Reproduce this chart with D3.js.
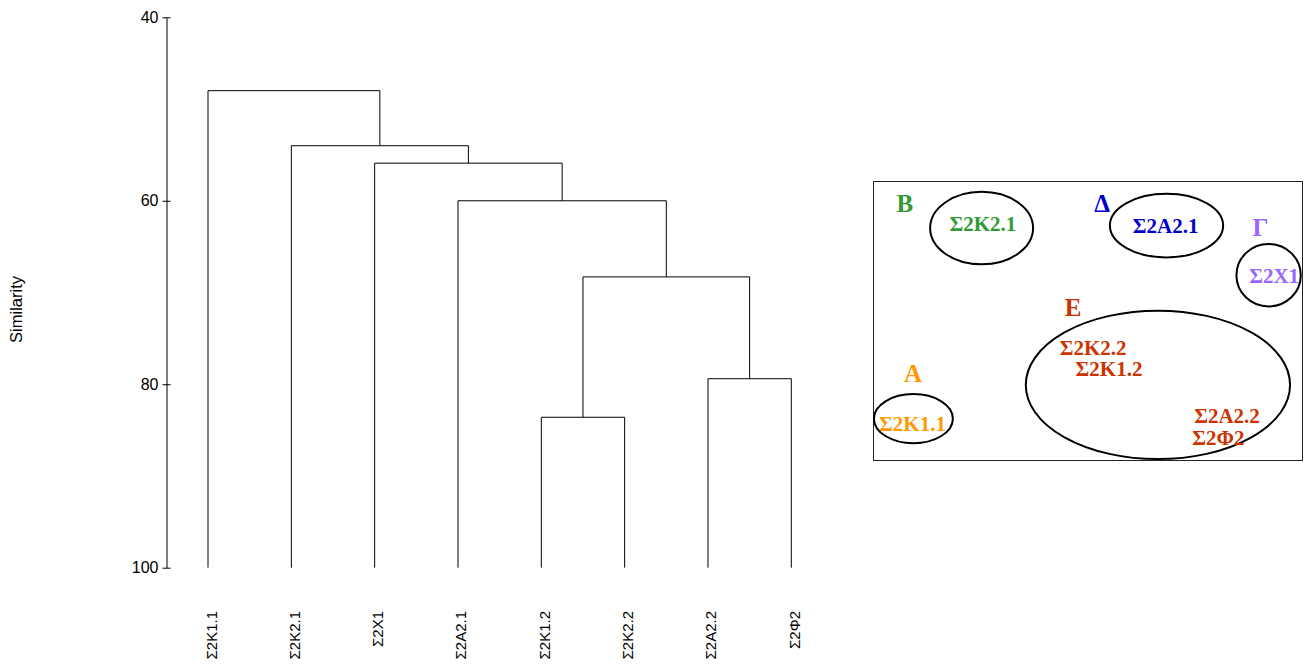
<!DOCTYPE html>
<html>
<head>
<meta charset="utf-8">
<script src="https://cdn.jsdelivr.net/npm/d3@7"></script>
<style>
  html, body { margin: 0; padding: 0; background: #fff; }
  svg { display: block; }
</style>
</head>
<body>
<svg id="chart" width="1305" height="664"></svg>
<script>
// Observations (dendrogram leaves, left to right)
const leaves = ["Σ2Κ1.1", "Σ2Κ2.1", "Σ2Χ1", "Σ2Α2.1", "Σ2Κ1.2", "Σ2Κ2.2", "Σ2Α2.2", "Σ2Φ2"];

// Linkage steps: cluster ids 0..7 are leaves, each step creates id 8, 9, ...
const mergeA   = [4, 6, 8, 3, 2, 1, 0];
const mergeB   = [5, 7, 9, 10, 11, 12, 13];
const mergeSim = [83.6, 79.4, 68.3, 60.0, 55.9, 54.0, 48.0];

// Similarity axis
const simTicks = [40, 60, 80, 100];
const simDomain = [40, 100];

// Grouping diagram
const groupLetters = ["Α", "Β", "Γ", "Δ", "Ε"];
const groupColors  = ["#ff9900", "#339933", "#9966ff", "#0000cc", "#cc3300"];
const groupMembers = [
  ["Σ2Κ1.1"],
  ["Σ2Κ2.1"],
  ["Σ2Χ1"],
  ["Σ2Α2.1"],
  ["Σ2Κ2.2", "Σ2Κ1.2", "Σ2Α2.2", "Σ2Φ2"]
];

const svg = d3.select("#chart");

// ---------- Dendrogram ----------
const x = d3.scalePoint().domain(leaves).range([208, 791.3]);
const y = d3.scaleLinear().domain(simDomain).range([17.3, 567.7]);

// Node positions built from the linkage
const nodeX = leaves.map(l => x(l));
const nodeY = leaves.map(() => y(100));
mergeA.forEach((a, i) => {
  const b = mergeB[i];
  nodeX.push((nodeX[a] + nodeX[b]) / 2);
  nodeY.push(y(mergeSim[i]));
});

const links = [];
mergeA.forEach((a, i) => {
  const b = mergeB[i];
  const h = y(mergeSim[i]);
  links.push([[nodeX[a], nodeY[a]], [nodeX[a], h], [nodeX[b], h], [nodeX[b], nodeY[b]]]);
});

const line = d3.line();
svg.append("g")
  .selectAll("path")
  .data(links)
  .join("path")
  .attr("d", line)
  .attr("fill", "none")
  .attr("stroke", "#000")
  .attr("stroke-width", 1);

// Y axis with ticks crossing the axis line
const yAxis = d3.axisLeft(y).tickValues(simTicks).tickSizeOuter(0).tickSizeInner(4).tickPadding(4);
const axisG = svg.append("g")
  .attr("transform", "translate(166.5,0)")
  .call(yAxis);
axisG.select(".domain").attr("stroke", "#000").attr("stroke-width", 1);
axisG.selectAll(".tick line").attr("x1", 4).attr("x2", -4).attr("stroke", "#000");
axisG.selectAll(".tick text")
  .attr("fill", "#000")
  .style("font-family", "'Liberation Sans', Arial, sans-serif")
  .style("font-size", "16px");

svg.append("text")
  .attr("transform", `translate(22,${(y(40) + y(100)) / 2 + 17}) rotate(-90)`)
  .attr("text-anchor", "middle")
  .style("font-family", "'Liberation Sans', Arial, sans-serif")
  .style("font-size", "16.5px")
  .attr("fill", "#000")
  .text("Similarity");

// Leaf labels, rotated
svg.append("g")
  .selectAll("text")
  .data(leaves)
  .join("text")
  .attr("transform", d => `translate(${x(d)},611) rotate(-90)`)
  .attr("dy", 8.5)
  .attr("text-anchor", "end")
  .style("font-family", "'Liberation Sans', Arial, sans-serif")
  .style("font-size", "15px")
  .attr("fill", "#000")
  .text(d => d);

// ---------- Grouping diagram ----------
const panel = { left: 873.5, top: 181.5, width: 429, height: 279 };
const px = d3.scaleLinear().domain([0, 100]).range([panel.left, panel.left + panel.width]);
const py = d3.scaleLinear().domain([0, 100]).range([panel.top, panel.top + panel.height]);

svg.append("rect")
  .attr("x", panel.left).attr("y", panel.top)
  .attr("width", panel.width).attr("height", panel.height)
  .attr("fill", "none").attr("stroke", "#222").attr("stroke-width", 1);

// Layout of each group inside the panel (panel percent units)
const ellipseLayout = [
  { cx: 9.3,  cy: 85.0, rx: 9.2,  ry: 8.8 },   // Α
  { cx: 25.2, cy: 16.7, rx: 12.0, ry: 13.0 },  // Β
  { cx: 92.1, cy: 33.6, rx: 7.5,  ry: 11.2 },  // Γ
  { cx: 68.3, cy: 15.8, rx: 13.2, ry: 11.4 },  // Δ
  { cx: 66.3, cy: 72.9, rx: 30.8, ry: 26.6 }   // Ε
];
const letterLayout = [
  { x: 9.2,  y: 71.8 },
  { x: 7.3,  y: 11.1 },
  { x: 90.2, y: 19.5 },
  { x: 53.3, y: 11.1 },
  { x: 46.5, y: 48.1 }
];
const memberLayout = [
  [{ x: 9.1,  y: 89.6 }],
  [{ x: 25.5, y: 17.6 }],
  [{ x: 93.4, y: 36.5 }],
  [{ x: 68.1, y: 18.5 }],
  [{ x: 51.2, y: 62.1 }, { x: 54.9, y: 69.7 }, { x: 82.4, y: 86.6 }, { x: 80.4, y: 94.4 }]
];

const groups = groupLetters.map((g, i) => ({
  letter: g, color: groupColors[i], members: groupMembers[i],
  ell: ellipseLayout[i], lab: letterLayout[i], pos: memberLayout[i]
}));

const gSel = svg.append("g")
  .selectAll("g")
  .data(groups)
  .join("g");

gSel.append("ellipse")
  .attr("cx", d => px(d.ell.cx))
  .attr("cy", d => py(d.ell.cy))
  .attr("rx", d => px(d.ell.rx) - px(0))
  .attr("ry", d => py(d.ell.ry) - py(0))
  .attr("fill", "none")
  .attr("stroke", "#000")
  .attr("stroke-width", 2);

const serif = "'Liberation Serif', 'Times New Roman', serif";

gSel.append("text")
  .attr("x", d => px(d.lab.x))
  .attr("y", d => py(d.lab.y))
  .attr("text-anchor", "middle")
  .style("font-family", serif)
  .style("font-weight", "bold")
  .style("font-size", "25px")
  .attr("fill", d => d.color)
  .text(d => d.letter);

gSel.each(function (d) {
  d3.select(this).selectAll("text.member")
    .data(d.members.map((m, j) => ({ name: m, p: d.pos[j], color: d.color })))
    .join("text")
    .attr("class", "member")
    .attr("x", m => px(m.p.x))
    .attr("y", m => py(m.p.y))
    .attr("text-anchor", "middle")
    .style("font-family", serif)
    .style("font-weight", "bold")
    .style("font-size", "21px")
    .attr("fill", m => m.color)
    .text(m => m.name);
});
</script>
</body>
</html>
